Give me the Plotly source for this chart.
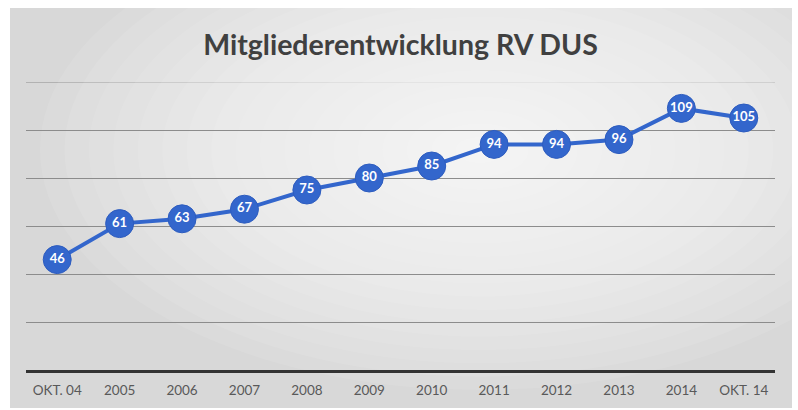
import plotly.graph_objects as go

categories = ["OKT. 04", "2005", "2006", "2007", "2008", "2009", "2010",
              "2011", "2012", "2013", "2014", "OKT. 14"]
members = [46, 61, 63, 67, 75, 80, 85, 94, 94, 96, 109, 105]
title_text = "Mitgliederentwicklung RV DUS"
y_max = 120
y_step = 20

W, H = 798, 410
ML, MR, MT, MB = 26, 23, 82, 40
PW, PH = W - ML - MR, H - MT - MB
GRID = "#8c8c8c"


def px(x):
    return (x - ML) / PW


def py(y):
    return (H - MB - y) / PH


fig = go.Figure()

fig.add_trace(go.Scatter(
    x=categories, y=members,
    mode="lines+markers+text",
    text=[str(v) for v in members],
    textposition="middle center",
    textfont=dict(family="Lato, Open Sans, sans-serif", size=13, color="white", weight="bold"),
    line=dict(color="#3366cc", width=4),
    marker=dict(size=28, color="#3366cc", line=dict(color="#2d5cbf", width=1)),
    hoverinfo="skip",
    cliponaxis=False,
))

# card background
shapes = [dict(type="rect", xref="paper", yref="paper", x0=px(10), x1=px(792), y0=py(408), y1=py(8),
               fillcolor="#d8d8d8", line=dict(width=0), layer="below"),
          # top gridline (at the range edge)
          dict(type="line", xref="paper", yref="y", x0=0, x1=1, y0=y_max, y1=y_max,
               line=dict(color=GRID, width=1), layer="below")]
# soft radial glow (drawn between gridlines and data so grid fades in the centre)
cx, cy = 480, 150
n = 18
for i in range(n):
    f = 1 - i / n
    rx, ry = 440 * f, 240 * f
    shapes.append(dict(type="circle", xref="paper", yref="paper",
                       x0=px(cx - rx), x1=px(cx + rx),
                       y0=py(cy + ry), y1=py(cy - ry),
                       fillcolor="rgba(255,255,255,0.085)", line=dict(width=0), layer="between"))

fig.update_layout(
    width=W, height=H,
    margin=dict(l=ML, r=MR, t=MT, b=MB),
    paper_bgcolor="white",
    plot_bgcolor="rgba(0,0,0,0)",
    shapes=shapes,
    showlegend=False,
    title=dict(text=title_text, x=0.5, xref="paper", xanchor="center",
               y=1 - 45 / H, yanchor="middle",
               font=dict(family="Lato, Open Sans, sans-serif", size=28.5, color="#404040", weight="bold")),
    xaxis=dict(type="category", range=[-0.5, 11.5], showgrid=False, showline=True,
               linecolor="#333333", linewidth=3, ticks="",
               tickfont=dict(family="Lato, Open Sans, sans-serif", size=13.5, color="#595959"),
               ticklabelstandoff=6, zeroline=False, fixedrange=True),
    yaxis=dict(range=[0, y_max], dtick=y_step, showgrid=True, gridcolor=GRID, gridwidth=1,
               showticklabels=False, zeroline=False, showline=False, fixedrange=True),
)

fig.write_html("out.html", config={"displayModeBar": False},
               post_script="document.body.style.margin='0';")
